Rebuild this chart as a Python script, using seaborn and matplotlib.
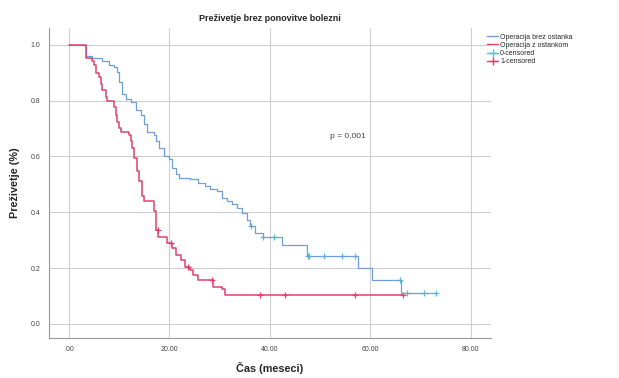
import numpy as np
import pandas as pd
import matplotlib
matplotlib.use('Agg')
import matplotlib.pyplot as plt
import seaborn as sns
from matplotlib.lines import Line2D

# --- dati (Kaplan-Meier, due gruppi) ---
blue_t = [0, 3.3, 4.6, 6.6, 8.0, 9.0, 9.6, 10.0, 10.6, 11.4, 12.4, 13.4, 14.4, 15.0, 15.6,
          17.0, 17.4, 18.0, 19.0, 20.0, 20.6, 21.4, 22.0, 24.0, 25.6, 27.0, 28.0, 29.4,
          30.4, 31.4, 32.4, 33.4, 34.4, 35.4, 36.0, 37.0, 38.6, 42.4, 47.4, 57.6, 60.4,
          66.2, 73.0]
blue_s = [1.0, 0.958, 0.954, 0.943, 0.929, 0.919, 0.901, 0.866, 0.823, 0.806, 0.795, 0.767,
          0.749, 0.717, 0.689, 0.678, 0.654, 0.629, 0.601, 0.590, 0.558, 0.537, 0.523, 0.519,
          0.505, 0.495, 0.484, 0.477, 0.452, 0.442, 0.431, 0.417, 0.399, 0.371, 0.350, 0.325,
          0.311, 0.283, 0.244, 0.201, 0.159, 0.112, 0.112]
blue_cens = [36.3, 38.7, 40.8, 47.5, 47.8, 50.7, 54.3, 57.0, 65.9, 67.3, 70.6, 73.0]

red_t = [0, 3.3, 4.6, 5.0, 5.3, 6.0, 6.3, 6.6, 7.3, 7.6, 9.0, 9.3, 9.6, 10.0, 10.3, 12.0,
         12.3, 12.6, 13.0, 13.6, 14.0, 14.6, 15.0, 17.0, 17.3, 17.8, 19.6, 20.6, 21.4, 22.4,
         23.0, 24.0, 24.6, 25.6, 28.6, 30.4, 31.0, 66.5]
red_s = [1.0, 0.954, 0.943, 0.926, 0.900, 0.883, 0.859, 0.837, 0.813, 0.800, 0.777, 0.749,
         0.724, 0.700, 0.689, 0.678, 0.654, 0.629, 0.594, 0.548, 0.512, 0.459, 0.442, 0.406,
         0.336, 0.311, 0.290, 0.272, 0.247, 0.230, 0.205, 0.194, 0.177, 0.159, 0.134, 0.124,
         0.104, 0.104]
red_cens = [17.7, 20.3, 23.7, 28.5, 38.0, 43.0, 57.0, 66.5]

group_names = ['Operacija brez ostanka', 'Operacija z ostankom']
cens_names = ['0-censored', '1-censored']
x_ticks = [0, 20, 40, 60, 80]
x_ticklabels = ['.00', '20.00', '40.00', '60.00', '80.00']
y_ticks = [0.0, 0.2, 0.4, 0.6, 0.8, 1.0]

c_blue = '#6d9fdc'
c_red = '#e2416a'
c_cyan = '#52c3d6'


def step_value(t_list, s_list, t):
    # valore della curva a gradini al tempo t
    idx = np.searchsorted(t_list, t, side='right') - 1
    return s_list[max(idx, 0)]


sns.set_style('white')
plt.rcParams['font.family'] = ['Liberation Sans', 'DejaVu Sans']

fig = plt.figure(figsize=(6.19, 3.78), dpi=100)
ax = fig.add_axes([0.079, 0.106, 0.714, 0.82])

sns.lineplot(x=blue_t, y=blue_s, drawstyle='steps-post', color=c_blue, lw=0.9, ax=ax)
sns.lineplot(x=red_t, y=red_s, drawstyle='steps-post', color=c_red, lw=1.1, ax=ax)

cb = pd.DataFrame({'t': blue_cens, 's': [step_value(blue_t, blue_s, t) for t in blue_cens]})
cr = pd.DataFrame({'t': red_cens, 's': [step_value(red_t, red_s, t) for t in red_cens]})
sns.scatterplot(data=cb, x='t', y='s', marker='+', color=c_cyan, s=22, linewidth=0.9, ax=ax)
sns.scatterplot(data=cr, x='t', y='s', marker='+', color=c_red, s=22, linewidth=0.9, ax=ax)

ax.set_xlim(-4, 84)
ax.set_ylim(-0.05, 1.06)
ax.set_xticks(x_ticks)
ax.set_xticklabels(x_ticklabels)
ax.set_yticks(y_ticks)
ax.set_yticklabels([f'{v:.1f}' for v in y_ticks])
ax.tick_params(labelsize=5, colors='#444444', length=0, pad=6)
ax.grid(True, color='#cfcfcf', lw=0.8)
for side in ['top', 'right']:
    ax.spines[side].set_visible(False)
for side in ['left', 'bottom']:
    ax.spines[side].set_color('#999999')
    ax.spines[side].set_linewidth(0.8)

ax.set_title('Preživetje brez ponovitve bolezni', fontsize=6.5, fontweight='bold', pad=5)
ax.set_xlabel('Čas (meseci)', fontsize=7.8, fontweight='bold', labelpad=6)
ax.set_ylabel('Preživetje (%)', fontsize=7.8, fontweight='bold', labelpad=8)

ax.text(52, 0.67, 'p = 0,001', fontsize=6, color='#444444', ha='left', va='center')

handles = [
    Line2D([0], [0], color=c_blue, lw=1.0, drawstyle='steps-post'),
    Line2D([0], [0], color=c_red, lw=1.0, drawstyle='steps-post'),
    Line2D([0], [0], color=c_cyan, lw=1.0, marker='+', markersize=6),
    Line2D([0], [0], color=c_red, lw=1.0, marker='+', markersize=6),
]
ax.legend(handles, group_names + cens_names, loc='upper left', bbox_to_anchor=(0.985, 0.99),
          frameon=False, fontsize=5, handlelength=1.6, handletextpad=0.3,
          labelspacing=0.15, borderaxespad=0)

fig.savefig('out.png', dpi=100)
